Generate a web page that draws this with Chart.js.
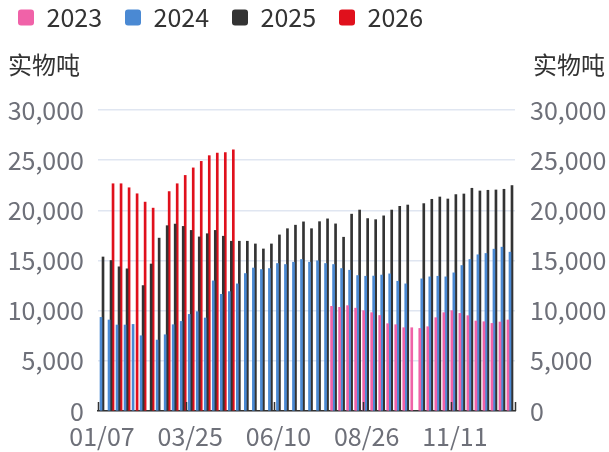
<!DOCTYPE html>
<html>
<head>
<meta charset="utf-8">
<script src="https://cdn.jsdelivr.net/npm/chart.js@4/dist/chart.umd.min.js"></script>
<style>
html,body{margin:0;padding:0;background:#fff;}
#wrap{width:609px;height:452px;position:relative;}
</style>
</head>
<body>
<div id="wrap"><canvas id="c" width="609" height="452"></canvas></div>
<script>
const categories = ['01/07','01/14','01/21','01/28','02/04','02/11','02/18','02/25','03/04','03/11','03/18','03/25',
  '04/01','04/08','04/15','04/22','04/29','05/06','05/13','05/20','05/27','06/03','06/10','06/17','06/24',
  '07/01','07/08','07/15','07/22','07/29','08/05','08/12','08/19','08/26','09/02','09/09','09/16','09/23','09/30',
  '10/07','10/14','10/21','10/28','11/04','11/11','11/18','11/25','12/02','12/09','12/16','12/23','12/30'];

const seriesNames = ['2023','2024','2025','2026'];

const v2023 = [null,null,null,null,null,null,null,null,null,null,null,null,null,null,null,null,null,null,null,null,null,null,null,null,null,null,null,null,null,
  10430,10330,10500,10250,10000,9800,9520,8700,8600,8300,8300,8230,8400,9300,9800,10000,9730,9500,8970,8900,8730,8870,9070];

const v2024 = [9330,9070,8570,8570,8630,7500,null,7070,7600,8600,8930,9630,9900,9270,12970,11630,11900,12670,13700,14250,14100,14200,
  14700,14600,14830,15100,14830,14970,14700,14600,14200,14030,13500,13430,13450,13550,13670,12930,12670,null,
  13170,13370,13430,13370,13770,14500,15100,15570,15700,16130,16330,15830];

const v2025 = [15350,15000,14370,14170,null,12500,14650,17230,18470,18630,18400,18000,17350,17670,18000,17420,16920,16920,16920,16650,16150,16650,
  17550,18170,18520,18850,18170,18870,19150,18650,17320,19620,20030,19180,19070,19450,20030,20400,20530,null,
  20670,21100,21330,21130,21570,21630,22200,21930,22000,22030,22100,22470];

const v2026 = [null,22650,22650,22250,21650,20820,20220,null,21870,22650,23480,24230,24880,25450,25700,25750,26020,
  null,null,null,null,null,null,null,null,null,null,null,null,null,null,null,null,null,null,null,null,null,null,null,
  null,null,null,null,null,null,null,null,null,null,null,null];

const yTicks = [0,5000,10000,15000,20000,25000,30000];
const axisTitle = '实物吨';

const colors = ['#f062a8','#4a89d3','#333333','#e0101c'];
const FONT = '"Noto Sans CJK SC","Noto Sans",sans-serif';
const FS = 25;

const extras = {
  id: 'extras',
  beforeInit(chart) {
    const origFit = chart.legend.fit;
    chart.legend.fit = function() {
      origFit.call(this);
      this.height = 128;
    };
  },
  afterDatasetsDraw(chart) {
    const ctx = chart.ctx;
    const x = chart.scales.x;
    const area = chart.chartArea;
    const step = x.width / categories.length;
    ctx.save();
    ctx.strokeStyle = '#333';
    ctx.lineWidth = 1.5;
    const idx = [];
    for (let i = 0; i < categories.length; i += 11) idx.push(x.getPixelForValue(i) - step / 2);
    idx.push(area.right);
    idx.forEach(px => {
      ctx.beginPath();
      ctx.moveTo(Math.round(px) + 0.5, area.bottom);
      ctx.lineTo(Math.round(px) + 0.5, area.bottom - 9);
      ctx.stroke();
    });
    ctx.restore();
  },
  afterDraw(chart) {
    const ctx = chart.ctx;
    const area = chart.chartArea;
    ctx.save();
    ctx.fillStyle = '#333';
    ctx.font = '24px ' + FONT;
    ctx.textBaseline = 'middle';
    ctx.textAlign = 'left';
    ctx.fillText(axisTitle, area.left - 90, area.top - 45);
    ctx.textAlign = 'right';
    ctx.fillText(axisTitle, area.right + 90, area.top - 45);
    ctx.restore();
  }
};

const ds = [v2023, v2024, v2025, v2026].map((d, i) => ({
  label: seriesNames[i],
  data: d,
  backgroundColor: colors[i],
  borderWidth: 0,
  categoryPercentage: 1.0,
  barPercentage: 1.0,
  yAxisID: 'y'
}));

new Chart(document.getElementById('c'), {
  type: 'bar',
  data: { labels: categories, datasets: ds },
  plugins: [extras],
  options: {
    responsive: false,
    animation: false,
    layout: { padding: { top: -18, left: -5, right: 0, bottom: 0 } },
    plugins: {
      legend: {
        display: true,
        position: 'top',
        align: 'start',
        labels: {
          boxWidth: 16, boxHeight: 16, padding: 23,
          color: '#333',
          font: { size: FS, family: FONT },
          useBorderRadius: true, borderRadius: 3
        }
      },
      tooltip: { enabled: false }
    },
    scales: {
      x: {
        type: 'category',
        grid: { display: false, drawTicks: false },
        border: { display: true, color: '#333', width: 1.5 },
        ticks: {
          autoSkip: false, maxRotation: 0, minRotation: 0, padding: 10,
          color: '#6e7079', font: { size: FS, family: FONT },
          callback: function(v, i) { return i % 11 === 0 ? categories[i] : ''; }
        },
        afterFit(s) { s.height = 41; }
      },
      y: {
        position: 'left',
        min: 0, max: 30000,
        afterBuildTicks(s) { s.ticks = yTicks.map(v => ({ value: v })); },
        grid: { color: '#e0e6f1', drawTicks: false, lineWidth: 1.5 },
        border: { display: false },
        ticks: {
          padding: 14, color: '#6e7079', font: { size: FS, family: FONT },
          callback: v => v.toLocaleString('en-US')
        },
        afterFit(s) { s.width = 103; }
      },
      y2: {
        position: 'right',
        min: 0, max: 30000,
        afterBuildTicks(s) { s.ticks = yTicks.map(v => ({ value: v })); },
        grid: { drawOnChartArea: false, drawTicks: false },
        border: { display: false },
        ticks: {
          padding: 15, color: '#6e7079', font: { size: FS, family: FONT },
          callback: v => v.toLocaleString('en-US')
        },
        afterFit(s) { s.width = 94; }
      }
    }
  }
});
</script>
</body>
</html>
